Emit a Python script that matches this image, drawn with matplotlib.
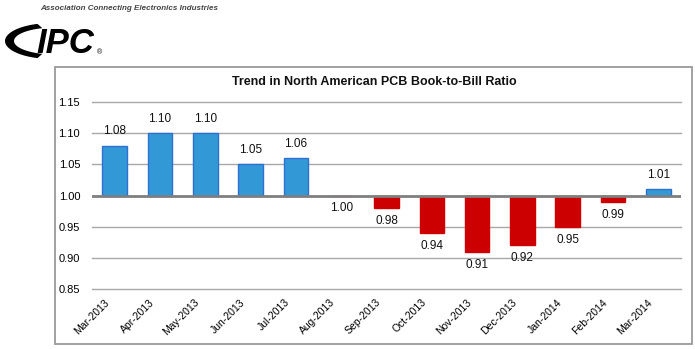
import numpy as np
import matplotlib.pyplot as plt
from matplotlib.patches import Rectangle, Polygon
from matplotlib.transforms import ScaledTranslation

plt.rcParams['font.family'] = ['Liberation Sans', 'DejaVu Sans']

months = ['Mar-2013', 'Apr-2013', 'May-2013', 'Jun-2013', 'Jul-2013', 'Aug-2013',
          'Sep-2013', 'Oct-2013', 'Nov-2013', 'Dec-2013', 'Jan-2014', 'Feb-2014', 'Mar-2014']
ratio = [1.08, 1.10, 1.10, 1.05, 1.06, 1.00, 0.98, 0.94, 0.91, 0.92, 0.95, 0.99, 1.01]
yticks = [0.85, 0.90, 0.95, 1.00, 1.05, 1.10, 1.15]
base = 1.00

W, H = 695, 349
fig = plt.figure(figsize=(W / 100, H / 100), dpi=100)

# frame around the chart
fig.patches.append(Rectangle((55 / W, 5 / H), 637 / W, 277 / H, transform=fig.transFigure,
                             fill=False, edgecolor='#9a9a9a', lw=1.3))

ax = fig.add_axes([92 / W, 1 - 289 / H, 589 / W, 187 / H])
x = np.arange(len(months))
heights = [r - base for r in ratio]
colors = ['#3399d6' if r > base else '#cc0000' for r in ratio]
edges = ['#2f6fd4' if r > base else '#cc0000' for r in ratio]

for t in yticks:
    if t == base:
        continue
    ax.axhline(t, color='#a8a8a8', lw=1.0, zorder=0, clip_on=False)

ax.bar(x, heights, bottom=base, width=0.54, color=colors, edgecolor=edges, lw=1.0, zorder=2)
ax.axhline(base, color='#7f7f7f', lw=2.0, zorder=3)

for xi, r in zip(x, ratio):
    if r > base:
        ax.annotate(f'{r:.2f}', (xi, r), xytext=(0, 6), textcoords='offset points',
                    ha='center', va='bottom', fontsize=8.5, color='#111111')
    else:
        ax.annotate(f'{r:.2f}', (xi, r), xytext=(0, -5), textcoords='offset points',
                    ha='center', va='top', fontsize=8.5, color='#111111')

ax.set_xlim(-0.5, len(months) - 0.5)
ax.set_ylim(0.85, 1.15)
ax.set_yticks(yticks)
ax.set_yticklabels([f'{t:.2f}' for t in yticks], fontsize=8)
ax.set_xticks(x)
ax.set_xticklabels(months, rotation=45, ha='right', rotation_mode='anchor', fontsize=7.5)
ax.tick_params(axis='both', length=0)
ax.tick_params(axis='y', pad=8.5)
ax.tick_params(axis='x', pad=6)
shift = ScaledTranslation(-11 / 100, 0, fig.dpi_scale_trans)
for lab in ax.get_xticklabels():
    lab.set_transform(lab.get_transform() + shift)
for s in ax.spines.values():
    s.set_visible(False)
ax.patch.set_alpha(0)

fig.text(374 / W, 1 - 82 / H, 'Trend in North American PCB Book-to-Bill Ratio',
         ha='center', va='center', fontsize=9, fontweight='bold', color='#111111')

# IPC logo
lg = fig.add_axes([0, 0, 1, 1])
lg.set_xlim(0, W)
lg.set_ylim(H, 0)
lg.axis('off')
lg.text(40, 8, 'Association Connecting Electronics Industries', fontsize=5.8,
        fontstyle='italic', fontweight='bold', color='#444444', va='center', ha='left')
th_o = np.radians(np.linspace(108, 252, 60))
th_i = np.radians(np.linspace(252, 108, 60))
outer = np.column_stack([52 + 47 * np.cos(th_o), 41 - 18 * np.sin(th_o)])
inner = np.column_stack([55 + 41 * np.cos(th_i), 41 - 13.5 * np.sin(th_i)])
lg.add_patch(Polygon(np.vstack([outer, inner]), closed=True, color='black', lw=0))
lg.text(36, 53, 'IPC', fontsize=25, fontstyle='italic', fontweight='bold',
        color='black', ha='left', va='baseline')
lg.text(97, 53, '®', fontsize=5, color='black', ha='left', va='center')

fig.savefig('out.png', dpi=100)
